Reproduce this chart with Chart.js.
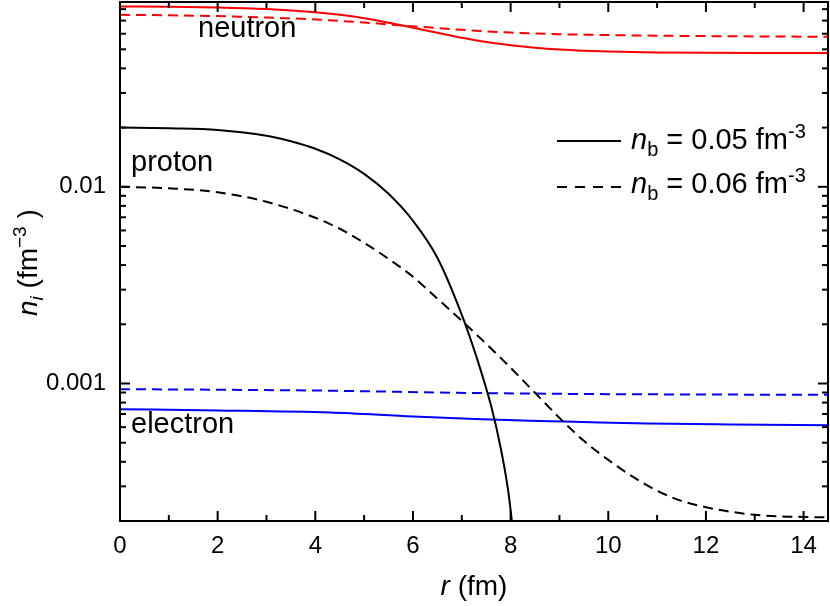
<!DOCTYPE html>
<html><head><meta charset="utf-8">
<script src="https://cdn.jsdelivr.net/npm/chart.js@4.4.0/dist/chart.umd.min.js"></script>
<style>html,body{margin:0;padding:0;background:#fff;}</style>
</head><body>
<canvas id="c" width="830" height="606"></canvas>
<script>
const FONT = '"Liberation Sans", Arial, Helvetica, sans-serif';

// ---- data (r in fm, densities in fm^-3) ----
const neutronR005 = [0, 1, 2, 3, 4, 4.5, 5, 5.5, 6, 6.5, 7, 7.5, 8, 8.5, 9, 9.5, 10, 11, 12, 13, 14.5];
const neutronN005 = [0.08251, 0.08223, 0.08155, 0.08004, 0.07710, 0.07488, 0.07188, 0.06821, 0.06432, 0.06066, 0.05721, 0.05440, 0.05240, 0.05089, 0.04983, 0.04913, 0.04868, 0.04823, 0.04800, 0.04789, 0.04784];
const neutronR006 = [0, 1, 2, 3, 4, 5, 6, 7, 8, 9, 10, 11, 12, 13, 14.5];
const neutronN006 = [0.07488, 0.07445, 0.07375, 0.07255, 0.07087, 0.06843, 0.06546, 0.06283, 0.06080, 0.05968, 0.05905, 0.05864, 0.05837, 0.05815, 0.05789];

const protonR005 = [0, 1, 2, 3, 3.5, 4, 4.5, 5, 5.5, 6, 6.5, 7, 7.3, 7.6, 7.8, 7.95, 8.03];
const protonN005 = [0.02002, 0.01983, 0.01944, 0.01817, 0.01703, 0.01561, 0.01380, 0.01164, 0.00921, 0.00672, 0.00436, 0.002235, 0.001367, 0.00077, 0.000466, 0.000285, 0.000196];
const protonR006 = [0, 1, 2, 3, 4, 4.5, 5, 5.5, 6, 6.5, 7, 7.5, 8, 8.5, 9, 9.5, 10, 10.5, 11, 11.5, 12, 12.5, 13, 13.5, 14, 14.5];
const protonN006 = [0.0100, 0.00983, 0.00938, 0.00839, 0.00696, 0.00612, 0.00519, 0.00430, 0.00349, 0.00270, 0.002084, 0.001592, 0.001202, 0.000897, 0.000669, 0.000511, 0.000409, 0.000336, 0.000285, 0.000253, 0.000235, 0.000223, 0.000215, 0.000211, 0.0002097, 0.0002088];

const electronR005 = [0, 2, 4.3, 6, 7.4, 8.4, 9.1, 10.8, 12.5, 14.5];
const electronN005 = [0.00074, 0.00073, 0.000712, 0.00068, 0.000659, 0.000646, 0.000641, 0.000626, 0.000619, 0.000614];
const electronR006 = [0, 2, 4.5, 6.5, 8.4, 10, 12, 14.5];
const electronN006 = [0.000936, 0.00093, 0.000918, 0.0009, 0.000889, 0.000883, 0.000879, 0.000876];

const xTickLabels = [0, 2, 4, 6, 8, 10, 12, 14];
const yTickLabels = {'-2': '0.01', '-3': '0.001'};

const pts = (r, n) => r.map((v, i) => ({x: v, y: n[i]}));
const DASH = [10, 6];
function ds(label, r, n, color, dashed) {
  return {label, data: pts(r, n), borderColor: color, borderWidth: 2, borderDash: dashed ? DASH : [],
          pointRadius: 0, fill: false, cubicInterpolationMode: 'monotone'};
}

function drawRich(ctx, x, y, segs) {
  let cx = x;
  for (const s of segs) {
    ctx.font = s.font;
    ctx.fillText(s.t, cx, y + (s.dy || 0));
    cx += ctx.measureText(s.t).width;
  }
  return cx;
}

const framePlugin = {
  id: 'frame',
  afterDatasetsDraw(chart) {
    const {ctx, chartArea: a, scales: {x, y}} = chart;
    ctx.save();
    ctx.strokeStyle = '#000';
    ctx.lineWidth = 2;
    const seg = (x1, y1, x2, y2) => { ctx.beginPath(); ctx.moveTo(x1, y1); ctx.lineTo(x2, y2); ctx.stroke(); };
    // x ticks (inside, bottom and top)
    for (let v = Math.ceil(x.min); v < x.max; v++) {
      if (v <= x.min) continue;
      const px = x.getPixelForValue(v);
      const len = (v % 2 === 0) ? 10 : 6;
      seg(px, a.bottom, px, a.bottom - len);
      seg(px, a.top, px, a.top + len);
    }
    // y ticks (log)
    for (let e = -5; e <= -1; e++) {
      for (let k = 1; k <= 9; k++) {
        const v = k * Math.pow(10, e);
        if (v <= y.min * 1.001 || v >= y.max * 0.999) continue;
        const py = y.getPixelForValue(v);
        const len = (k === 1) ? 10 : 6;
        seg(a.left, py, a.left + len, py);
        seg(a.right, py, a.right - len, py);
      }
    }
    // frame
    ctx.strokeRect(a.left, a.top, a.right - a.left, a.bottom - a.top);

    ctx.fillStyle = '#000';
    ctx.textBaseline = 'alphabetic';
    ctx.textAlign = 'left';
    const F = (s, it) => (it ? 'italic ' : '') + s + 'px ' + FONT;
    // annotations
    ctx.font = F(29);
    ctx.fillText('neutron', 198, 37);
    ctx.fillText('proton', 131, 171);
    ctx.fillText('electron', 131, 433);

    // legend
    const legendRows = [{dash: [], txt: '0.05', y: 149, ly: 141}, {dash: [10, 8], txt: '0.06', y: 193, ly: 187}];
    legendRows.forEach(r => {
      ctx.setLineDash(r.dash);
      seg(557, r.ly, 621, r.ly);
      ctx.setLineDash([]);
      drawRich(ctx, 631, r.y, [
        {t: 'n', font: F(29, true)},
        {t: 'b', font: F(20), dy: 7},
        {t: ' = ' + r.txt + ' fm', font: F(29)},
        {t: '-3', font: F(20), dy: -11}
      ]);
    });

    // x title
    ctx.font = F(28, true);
    const w1 = ctx.measureText('r').width;
    ctx.font = F(28);
    const w2 = ctx.measureText(' (fm)').width;
    drawRich(ctx, (a.left + a.right) / 2 - (w1 + w2) / 2, 595, [
      {t: 'r', font: F(28, true)}, {t: ' (fm)', font: F(28)}
    ]);

    // y title (rotated)
    ctx.save();
    ctx.translate(37, 316);
    ctx.rotate(-Math.PI / 2);
    drawRich(ctx, 0, 0, [
      {t: 'n', font: F(28, true)},
      {t: 'i', font: F(19, true), dy: 6},
      {t: ' (fm', font: F(28)},
      {t: '\u22123', font: F(19), dy: -11},
      {t: ' )', font: F(28)}
    ]);
    ctx.restore();
    ctx.restore();
  }
};

const zeroPad = s => { s.paddingLeft = 0; s.paddingRight = 0; s.paddingTop = 0; s.paddingBottom = 0; };

new Chart(document.getElementById('c'), {
  type: 'line',
  data: {
    datasets: [
      ds('neutron 0.05', neutronR005, neutronN005, '#ff0000', false),
      ds('neutron 0.06', neutronR006, neutronN006, '#ff0000', true),
      ds('proton 0.05', protonR005, protonN005, '#000000', false),
      ds('proton 0.06', protonR006, protonN006, '#000000', true),
      ds('electron 0.05', electronR005, electronN005, '#0000ff', false),
      ds('electron 0.06', electronR006, electronN006, '#0000ff', true)
    ]
  },
  options: {
    responsive: false,
    animation: false,
    layout: {padding: {left: 0, right: 2, top: 2, bottom: 0}},
    plugins: {legend: {display: false}, tooltip: {enabled: false}},
    scales: {
      x: {
        type: 'linear', min: 0, max: 14.5,
        afterFit: s => { s.height = 85; zeroPad(s); },
        grid: {display: false, drawTicks: false},
        border: {display: false},
        ticks: {
          stepSize: 1, includeBounds: false, autoSkip: false, maxRotation: 0, padding: 11, color: '#000',
          font: {family: FONT, size: 24},
          callback: v => xTickLabels.includes(v) ? String(v) : ''
        }
      },
      y: {
        type: 'logarithmic', min: 0.0002, max: 0.087,
        afterFit: s => { s.width = 120; zeroPad(s); },
        grid: {display: false, drawTicks: false},
        border: {display: false},
        ticks: {
          autoSkip: false, padding: 14, color: '#000',
          font: {family: FONT, size: 24},
          callback: v => {
            const l = Math.round(Math.log10(v) * 1e6) / 1e6;
            return Number.isInteger(l) && yTickLabels[String(l)] ? yTickLabels[String(l)] : '';
          }
        }
      }
    }
  },
  plugins: [framePlugin]
});
</script>
</body></html>
